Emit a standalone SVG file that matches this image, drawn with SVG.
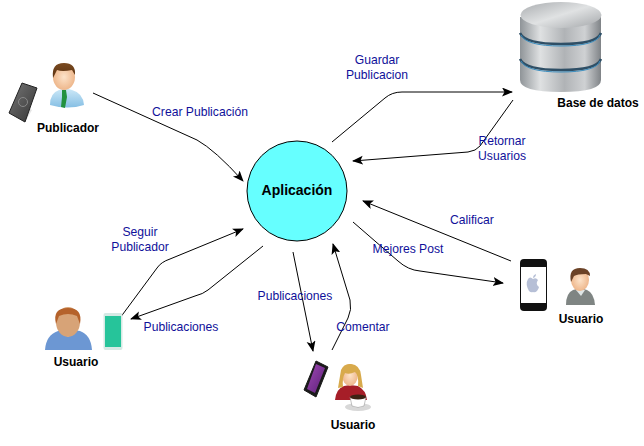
<svg xmlns="http://www.w3.org/2000/svg" width="644" height="446" viewBox="0 0 644 446">
<style>
.c{fill:none;stroke:#000;stroke-width:1;marker-end:url(#a)}
.l{font:12.150px "Liberation Sans",Arial,sans-serif;fill:#10109a;text-anchor:middle}
.n{font:bold 12px "Liberation Sans",Arial,sans-serif;fill:#000;text-anchor:middle}
.skin{fill:url(#skin)}
</style>
<defs>
<marker id="a" markerWidth="12" markerHeight="10" refX="10" refY="4.500" orient="auto" markerUnits="userSpaceOnUse"><path d="M0 0L11 4.500L0 9L2.500 4.500Z" fill="#000"/></marker>
<linearGradient id="metal" x1="0" x2="1" y1="0" y2="0"><stop offset="0" stop-color="#8f9498"/><stop offset=".25" stop-color="#dfe1e2"/><stop offset=".55" stop-color="#b0b3b6"/><stop offset=".8" stop-color="#cfd1d3"/><stop offset="1" stop-color="#7f8387"/></linearGradient>
<linearGradient id="top" x1="0" x2="1" y1="0" y2="1"><stop offset="0" stop-color="#a9acaf"/><stop offset=".5" stop-color="#e0e2e3"/><stop offset="1" stop-color="#a3a6a9"/></linearGradient>
<radialGradient id="skin"><stop offset="0" stop-color="#fde3c9"/><stop offset="1" stop-color="#eeb78c"/></radialGradient>
<linearGradient id="shirt" x1="0" x2="0" y1="0" y2="1"><stop offset="0" stop-color="#cfeaf8"/><stop offset="1" stop-color="#86bfe4"/></linearGradient>
<linearGradient id="phone" x1="0" x2="1" y1="0" y2="1"><stop offset="0" stop-color="#777"/><stop offset="1" stop-color="#333"/></linearGradient>
<linearGradient id="purple" x1="0" x2="1" y1="0" y2="1"><stop offset="0" stop-color="#a04ab5"/><stop offset="1" stop-color="#5c1f78"/></linearGradient>
<linearGradient id="hair" x1="0" x2="0" y1="0" y2="1"><stop offset="0" stop-color="#7a4a20"/><stop offset="1" stop-color="#5a3212"/></linearGradient>
</defs>

<g id="connectors">
<path class="c" d="M93 93L197 140Q215 150 243 181"/>
<path class="c" d="M332 142L385 98Q392 92 402 92L512 92"/>
<path class="c" d="M513 100L480 146Q476 151 468 152L353 161"/>
<path class="c" d="M511 261L363 201"/>
<path class="c" d="M353 222L398 261Q408 270 420 271L503 283"/>
<path class="c" d="M332 350L348 318Q352 310 350 300L333 244"/>
<path class="c" d="M293 252L313 351"/>
<path class="c" d="M120 318L157 268Q161 262 170 259L243 229"/>
<path class="c" d="M263 246L208 290Q203 294 195 296L131 319"/>
</g>

<g id="aplicacion">
<circle cx="297" cy="191" r="50" fill="#66ffff" stroke="#000" stroke-width="1"/>
<text x="297" y="195" font-family="Liberation Sans, Arial, sans-serif" font-size="14" font-weight="bold" text-anchor="middle">Aplicación</text>
</g>

<g id="publicador">
<path d="M9 113L25 122L32 110L20 100Z" fill="#ccc" opacity=".5"/>
<path d="M22 83L37 88L25 122L9 113Z" fill="url(#phone)" stroke="#222" stroke-linejoin="round"/>
<circle cx="23" cy="102" r="4.500" fill="none" stroke="#888"/>
<path d="M50 105Q50 93 59 90L65 88L72 90Q83 93 84 105Q68 110 50 105Z" fill="url(#shirt)"/>
<path d="M62 90L66 90L67 97L65 108L61 107L62 97Z" fill="#22913f"/>
<ellipse cx="64" cy="77" rx="11" ry="13" class="skin"/>
<path d="M53 78Q51 63 64 63Q76 63 75 75L72 70Q62 72 57 70Q55 74 53 78Z" fill="url(#hair)"/>
<text class="n" x="68" y="132">Publicador</text>
</g>

<g id="base-de-datos">
<path d="M520 17V80Q520 92 561 92Q601 92 601 80V17Z" fill="url(#metal)"/>
<ellipse cx="561" cy="15" rx="40.500" ry="13" fill="url(#top)"/>
<path d="M520 33Q525 44 561 44Q597 44 601 33" fill="none" stroke="#2f4f66" stroke-width="2.500"/>
<path d="M520 59Q525 70 561 70Q597 70 601 59" fill="none" stroke="#2f4f66" stroke-width="2.500"/>
<path d="M521 35Q526 46 561 46Q596 46 600 35" fill="none" stroke="#3d8fc0" stroke-width="1"/>
<path d="M521 61Q526 72 561 72Q596 72 600 61" fill="none" stroke="#3d8fc0" stroke-width="1"/>
<text class="n" x="598" y="107">Base de datos</text>
</g>

<g id="usuario-izquierda">
<path d="M45 350Q46 335 58 331L68 329L80 331Q91 335 92 350Z" fill="#6c97d3"/>
<path d="M60 331L68 337L76 331L74 327H62Z" fill="#e8e8e8"/>
<ellipse cx="68" cy="322" rx="12" ry="15" fill="#d7a377"/>
<path d="M56 324Q52 308 68 308Q83 308 80 324L77 316Q68 312 59 316Z" fill="#b5622b"/>
<rect x="103.500" y="313" width="19" height="37" rx="2" fill="#d5e9e4"/>
<rect x="105" y="316" width="16" height="31" fill="#26c49a"/>
<text class="n" x="76" y="366">Usuario</text>
</g>

<g id="usuario-abajo">
<path d="M316 361L328 367L316 397L304 390Z" fill="#1a1a1a" stroke="#1a1a1a" stroke-linejoin="round"/>
<path d="M316 364L325 368L315 393L307 389Z" fill="url(#purple)"/>
<path d="M335 400Q336 389 344 386L350 385L358 386Q366 390 367 400Z" fill="#a61e28"/>
<ellipse cx="350" cy="375" rx="8" ry="11" class="skin"/>
<path d="M338 388Q340 376 341 370Q344 363 351 364Q360 365 361 375L363 388L358 386Q359 375 355 372Q349 375 345 373Q342 378 343 387Z" fill="#d8aa4c"/>
<ellipse cx="358" cy="407" rx="13" ry="4" fill="#d8d8d8"/>
<path d="M350 397H366L364 406Q358 409 352 406Z" fill="#fff" stroke="#999" stroke-width=".6"/>
<ellipse cx="358" cy="397" rx="8" ry="2.500" fill="#3b2314"/>
<text class="n" x="353" y="429">Usuario</text>
</g>

<g id="usuario-derecha">
<rect x="520" y="259" width="27" height="52" rx="4" fill="#111"/>
<rect x="521" y="267" width="25" height="36" fill="#fff"/>
<path d="M533 279Q530 276 528 279Q525 284 529 291Q531 293 533 292Q535 293 537 291Q539 288 539 287Q535 284 538 280Q536 277 533 279ZM533 278Q533 275 536 274Q536 277 533 278Z" fill="#b6bfd6"/>
<path d="M566 305Q566 293 573 290L580 288L587 290Q594 293 595 305Z" fill="#7f8583"/>
<path d="M576 290L581 296L585 290Z" fill="#dfe6e6"/>
<ellipse cx="580" cy="280" rx="9" ry="11" class="skin"/>
<path d="M571 282Q568 268 580 268Q590 268 590 276L586 274Q577 274 574 276Z" fill="#6b4226"/>
<text class="n" x="581" y="323">Usuario</text>
</g>

<g id="labels">
<text class="l" x="200" y="116">Crear Publicación</text>
<text class="l" x="377" y="64">Guardar</text>
<text class="l" x="377" y="79">Publicacion</text>
<text class="l" x="502" y="145">Retornar</text>
<text class="l" x="502" y="160">Usuarios</text>
<text class="l" x="472" y="224">Calificar</text>
<text class="l" x="408" y="253">Mejores Post</text>
<text class="l" x="363" y="331">Comentar</text>
<text class="l" x="295" y="300">Publicaciones</text>
<text class="l" x="140" y="236">Seguir</text>
<text class="l" x="140" y="251">Publicador</text>
<text class="l" x="181" y="331">Publicaciones</text>
</g>
</svg>
